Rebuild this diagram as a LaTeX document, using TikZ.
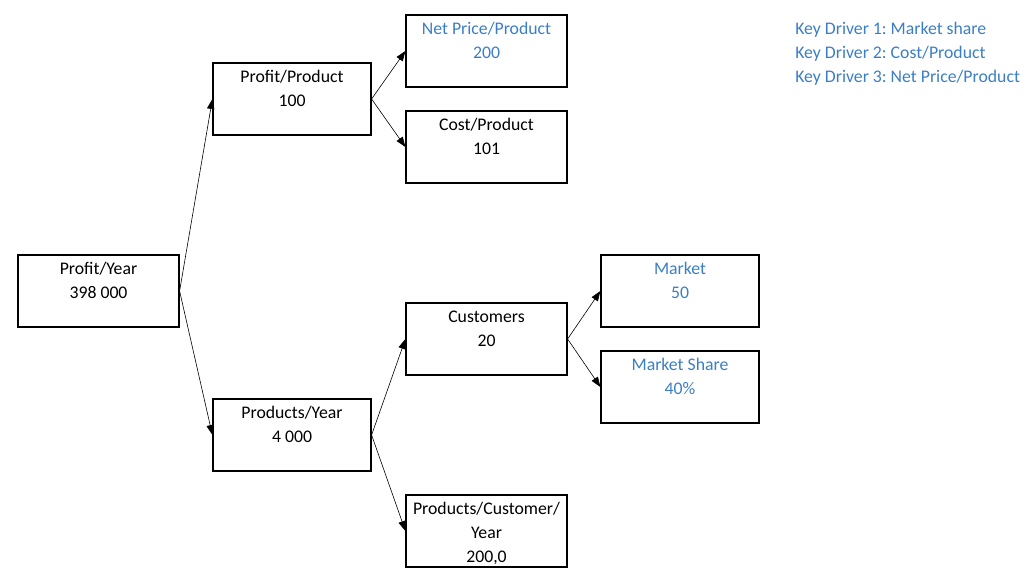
\documentclass[tikz,border=0pt]{standalone}
\usepackage{fontspec}
\setmainfont{Carlito}
\usetikzlibrary{calc,arrows.meta}
\definecolor{kblue}{RGB}{59,126,197}
\frenchspacing
\tikzset{
  box/.style={draw, line width=0.9pt, minimum width=120.75pt, minimum height=54pt, inner sep=0pt},
  nbox/.style={box, minimum width=118.5pt},
  txt/.style={align=center, inner sep=0pt, anchor=base, font=\fontsize{13.3}{18}\selectfont},
  btxt/.style={txt, text=kblue},
  arr/.style={-{Triangle[length=7.5pt,width=5.5pt]}, line width=0.45pt},
}
\begin{document}
\begin{tikzpicture}[x=0.75pt,y=-0.75pt]
\useasboundingbox (0,0) rectangle (1034,584);
% boxes
\node[box]  (py)  at (98.5,291) {};
\node[nbox] (pp)  at (292,99)   {};
\node[box]  (np)  at (486.5,51) {};
\node[box]  (cp)  at (486.5,147) {};
\node[box]  (cu)  at (486.5,339) {};
\node[nbox] (pyr) at (292,435)  {};
\node[box]  (pcy) at (486.5,531) {};
\node[nbox] (mk)  at (680,291)  {};
\node[nbox] (ms)  at (680,387)  {};
% texts (anchor = baseline of last line)
\node[txt]  (py-t)  at ($(py.north)+(0,44.5)$)  {Profit/Year\\398~000};
\node[txt]  (pp-t)  at ($(pp.north)+(0,44.5)$)  {Profit/Product\\100};
\node[btxt] (np-t)  at ($(np.north)+(0,44.5)$)  {Net Price/Product\\200};
\node[txt]  (cp-t)  at ($(cp.north)+(0,44.5)$)  {Cost/Product\\101};
\node[txt]  (cu-t)  at ($(cu.north)+(0,44.5)$)  {Customers\\20};
\node[txt]  (pyr-t) at ($(pyr.north)+(0,44.5)$) {Products/Year\\4~000};
\node[txt]  (pcy-t) at ($(pcy.north)+(0,68.5)$) {Products/Customer/\\Year\\200,0};
\node[btxt] (mk-t)  at ($(mk.north)+(0,44.5)$)  {Market\\50};
\node[btxt] (ms-t)  at ($(ms.north)+(0,44.5)$)  {Market Share\\40\%};
\node[btxt, align=left, anchor=base west] (kd) at (795,82.5)
  {Key Driver 1: Market share\\Key Driver 2: Cost/Product\\Key Driver 3: Net Price/Product};
% connectors
\draw[arr] (py.east) -- (pp.west);
\draw[arr] (py.east) -- (pyr.west);
\draw[arr] (pp.east) -- (np.west);
\draw[arr] (pp.east) -- (cp.west);
\draw[arr] (pyr.east) -- (cu.west);
\draw[arr] (pyr.east) -- (pcy.west);
\draw[arr] (cu.east) -- (mk.west);
\draw[arr] (cu.east) -- (ms.west);
\end{tikzpicture}
\end{document}
